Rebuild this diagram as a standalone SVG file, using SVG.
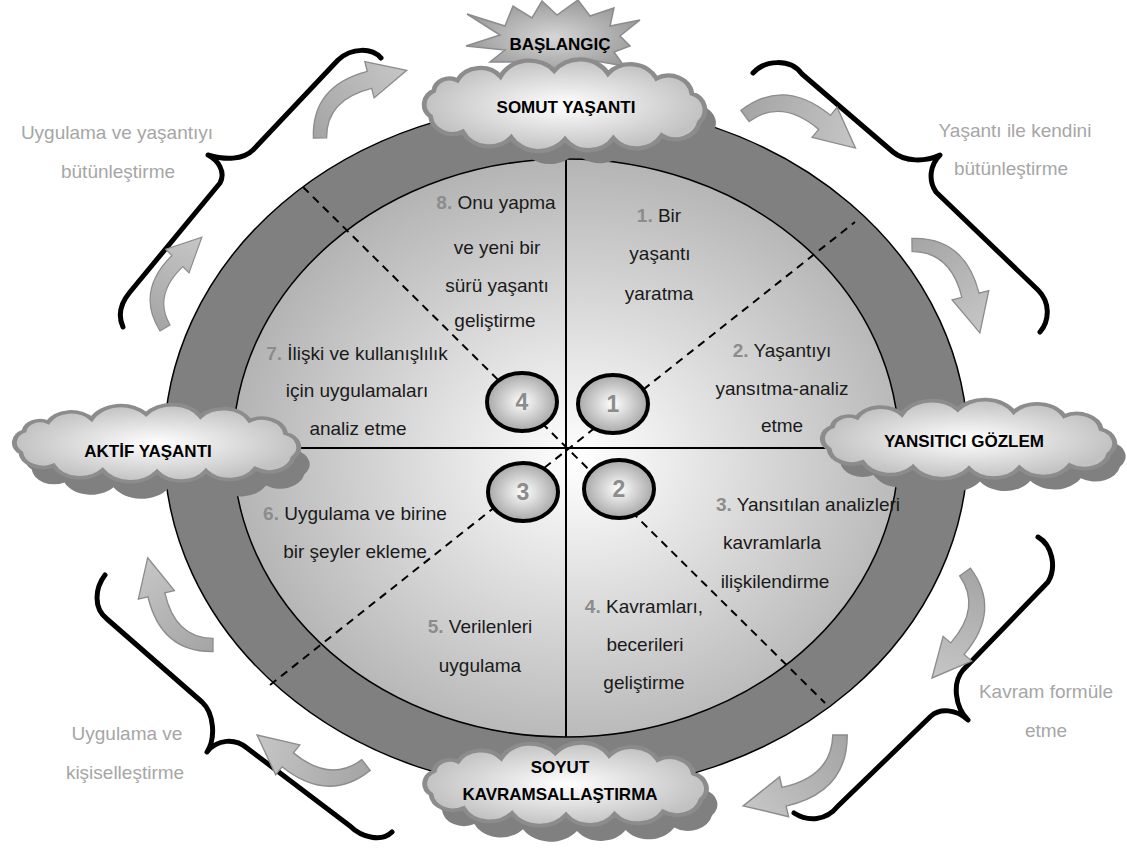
<svg xmlns="http://www.w3.org/2000/svg" width="1127" height="849" viewBox="0 0 1127 849">
<defs>
<radialGradient id="gInner" cx="0.52" cy="0.52" r="0.55"><stop offset="0" stop-color="#ffffff"/><stop offset="1" stop-color="#b0b0b0"/></radialGradient>
<radialGradient id="gSmall" cx="0.5" cy="0.5" r="0.5"><stop offset="0" stop-color="#ffffff"/><stop offset="1" stop-color="#a8a8a8"/></radialGradient>
<radialGradient id="gCloud" cx="0.5" cy="0.5" r="0.5"><stop offset="0" stop-color="#ffffff"/><stop offset="1" stop-color="#c2c2c2"/></radialGradient>
<radialGradient id="gStar" cx="0.5" cy="0.5" r="0.5"><stop offset="0" stop-color="#d6d6d6"/><stop offset="1" stop-color="#9c9c9c"/></radialGradient>
<linearGradient id="gArrow" x1="0" y1="0" x2="1" y2="0"><stop offset="0" stop-color="#a4a4a4"/><stop offset="1" stop-color="#c6c6c6"/></linearGradient>
<path id="cloud" d="M -60 -30 A 30 30 0 0 1 -10 -36 A 30 30 0 0 1 40 -33 A 27 27 0 0 1 85 -28 A 22 22 0 0 1 118 -12 A 18.5 18.5 0 0 1 125 18 A 22.6 22.6 0 0 1 90 32 A 27 27 0 0 1 45 35 A 27 27 0 0 1 0 36 A 30 30 0 0 1 -50 34 A 27 27 0 0 1 -95 28 A 20.4 20.4 0 0 1 -125 12 A 16.3 16.3 0 0 1 -122 -15 A 14.8 14.8 0 0 1 -100 -26 A 24 24 0 0 1 -60 -30 Z"/>
<path id="arr" d="M -4.8 -3.6 Q 23 -42 71.2 -21.3 L 74.8 -29.6 L 100 0 L 61.2 1.6 L 64.8 -6.7 Q 26 -24 4.8 3.6 Z"/>
</defs>
<style>
.txt{font-family:"Liberation Sans",Arial,sans-serif;font-size:19px;fill:#1a1a1a;text-anchor:middle}
.num{font-weight:bold;fill:#8c8c8c}
.side{font-family:"Liberation Sans",Arial,sans-serif;font-size:19px;fill:#a6a6a6;text-anchor:middle}
.lbl{font-family:"Liberation Sans",Arial,sans-serif;font-size:17px;font-weight:bold;fill:#000;text-anchor:middle}
.cnum{font-family:"Liberation Sans",Arial,sans-serif;font-size:23px;font-weight:bold;fill:#8c8c8c;text-anchor:middle}
.cloud{fill:url(#gCloud);stroke:#8c8c8c;stroke-width:4.5}
.shadow{fill:#808080}
.small{fill:url(#gSmall);stroke:#000;stroke-width:4}
.dash{stroke:#000;stroke-width:2;stroke-dasharray:8 6;fill:none}
.axis{stroke:#000;stroke-width:2;fill:none}
.brace{stroke:#000;stroke-width:5;fill:none;stroke-linecap:round;stroke-linejoin:round}
.arrow{fill:url(#gArrow);stroke:#8c8c8c;stroke-width:1.2}
</style>
<rect width="1127" height="849" fill="#ffffff"/>

<g id="wheel">
<ellipse cx="566" cy="447" rx="402" ry="344" fill="#808080" stroke="#000" stroke-width="1.5"/>
<ellipse cx="566" cy="448" rx="333" ry="289" fill="url(#gInner)" stroke="#000" stroke-width="1.5"/>
</g>

<g id="connectors">
<line class="axis" x1="566" y1="159" x2="566" y2="737"/>
<line class="axis" x1="233" y1="448" x2="899" y2="448"/>
<line class="dash" x1="303" y1="187" x2="825" y2="703"/>
<line class="dash" x1="270" y1="685" x2="855" y2="222"/>
<path class="brace" d="M 381 58 C 372 48, 352 47, 338 60 L 253 150 C 243 160, 225 160, 208 155 C 218 160, 226 172, 220 183 L 130 292 C 120 304, 118 316, 123 327"/>
<path class="brace" d="M 753 73 C 765 60, 790 58, 802 74 L 893 152 C 905 162, 925 162, 940 155 C 930 165, 928 180, 936 192 L 1038 290 C 1050 302, 1050 320, 1040 332"/>
<path class="brace" d="M 105 575 C 95 588, 93 608, 107 619 L 202 702 C 214 713, 216 738, 207 752 C 217 739, 235 738, 247 748 L 350 826 C 362 838, 382 842, 392 832"/>
<path class="brace" d="M 1038 537 C 1052 545, 1057 567, 1048 582 L 963 670 C 952 683, 955 707, 968 720 C 956 709, 940 708, 931 716 L 838 806 C 826 821, 808 822, 794 813"/>
<use href="#arr" class="arrow" transform="translate(320,138) rotate(-38) scale(1.1)"/>
<use href="#arr" class="arrow" transform="translate(165,328) rotate(-67.9) scale(0.98)"/>
<use href="#arr" class="arrow" transform="translate(745,116) rotate(16.2) scale(1.15)"/>
<use href="#arr" class="arrow" transform="translate(912,245) rotate(52.3) scale(1.11)"/>
<use href="#arr" class="arrow" transform="translate(965,572) rotate(107.3) scale(1.11)"/>
<use href="#arr" class="arrow" transform="translate(840,735) rotate(143.8) scale(1.2)"/>
<use href="#arr" class="arrow" transform="translate(366,765) rotate(195.4) scale(1.13)"/>
<use href="#arr" class="arrow" transform="translate(213,645) rotate(-126.8) scale(1.09)"/>
</g>

<g id="step-circle-4"><ellipse class="small" cx="522" cy="402" rx="35" ry="29"/><text class="cnum" x="522" y="410">4</text></g>
<g id="step-circle-1"><ellipse class="small" cx="613" cy="404" rx="35" ry="29"/><text class="cnum" x="613" y="412">1</text></g>
<g id="step-circle-3"><ellipse class="small" cx="523" cy="492" rx="35" ry="29"/><text class="cnum" x="523" y="500">3</text></g>
<g id="step-circle-2"><ellipse class="small" cx="619" cy="489" rx="35" ry="29"/><text class="cnum" x="619" y="497">2</text></g>

<g id="step-1">
<text class="txt" x="659" y="222"><tspan class="num">1.</tspan> Bir</text>
<text class="txt" x="660" y="260">yaşantı</text>
<text class="txt" x="659" y="300">yaratma</text>
</g>
<g id="step-2">
<text class="txt" x="782" y="357"><tspan class="num">2.</tspan> Yaşantıyı</text>
<text class="txt" x="782" y="395">yansıtma-analiz</text>
<text class="txt" x="782" y="432">etme</text>
</g>
<g id="step-3">
<text class="txt" x="808" y="511"><tspan class="num">3.</tspan> Yansıtılan analizleri</text>
<text class="txt" x="772" y="549">kavramlarla</text>
<text class="txt" x="775" y="588">ilişkilendirme</text>
</g>
<g id="step-4">
<text class="txt" x="644" y="613"><tspan class="num">4.</tspan> Kavramları,</text>
<text class="txt" x="645" y="651">becerileri</text>
<text class="txt" x="644" y="689">geliştirme</text>
</g>
<g id="step-5">
<text class="txt" x="480" y="633"><tspan class="num">5.</tspan> Verilenleri</text>
<text class="txt" x="480" y="672">uygulama</text>
</g>
<g id="step-6">
<text class="txt" x="355" y="520"><tspan class="num">6.</tspan> Uygulama ve birine</text>
<text class="txt" x="355" y="558">bir şeyler ekleme</text>
</g>
<g id="step-7">
<text class="txt" x="357" y="360"><tspan class="num">7.</tspan> İlişki ve kullanışlılık</text>
<text class="txt" x="357" y="397">için uygulamaları</text>
<text class="txt" x="358" y="435">analiz etme</text>
</g>
<g id="step-8">
<text class="txt" x="496" y="209"><tspan class="num">8.</tspan> Onu yapma</text>
<text class="txt" x="497" y="254">ve yeni bir</text>
<text class="txt" x="497" y="292">sürü yaşantı</text>
<text class="txt" x="495" y="327">geliştirme</text>
</g>

<g id="side-top-left"><text class="side" x="117" y="139">Uygulama ve yaşantıyı</text><text class="side" x="118" y="178">bütünleştirme</text></g>
<g id="side-top-right"><text class="side" x="1015" y="137">Yaşantı ile kendini</text><text class="side" x="1011" y="175">bütünleştirme</text></g>
<g id="side-bottom-left"><text class="side" x="127" y="740">Uygulama ve</text><text class="side" x="125" y="779">kişiselleştirme</text></g>
<g id="side-bottom-right"><text class="side" x="1046" y="698">Kavram formüle</text><text class="side" x="1046" y="737">etme</text></g>

<g id="baslangic">
<polygon points="467,14 505,26 513,6 532,18 542,1 557,15 578,0 590,16 614,8 610,26 640,20 620,36 630,46 614,52 624,66 590,60 565,75 530,62 490,62 505,50 466,46 500,35" fill="url(#gStar)" stroke="#8c8c8c" stroke-width="1.5"/>
<text class="lbl" x="560" y="50">BAŞLANGIÇ</text>
</g>

<g id="somut-yasanti">
<use href="#cloud" class="shadow" transform="translate(576,118) scale(1.076,0.95)"/>
<use href="#cloud" class="cloud" transform="translate(565,105) scale(1.076,0.95)"/>
<text class="lbl" x="566" y="113">SOMUT YAŞANTI</text>
</g>

<g id="aktif-yasanti">
<use href="#cloud" class="shadow" transform="translate(168,460) scale(1.09,0.8)"/>
<use href="#cloud" class="cloud" transform="translate(157,443) scale(1.09,0.8)"/>
<text class="lbl" x="148" y="457">AKTİF YAŞANTI</text>
</g>

<g id="yansitici-gozlem">
<use href="#cloud" class="shadow" transform="translate(980,452) scale(1.12,0.82)"/>
<use href="#cloud" class="cloud" transform="translate(969,439) scale(1.12,0.82)"/>
<text class="lbl" x="964" y="447">YANSITICI GÖZLEM</text>
</g>

<g id="soyut-kavramsallastirma">
<use href="#cloud" class="shadow" transform="translate(577,800) scale(1.08,0.86)"/>
<use href="#cloud" class="cloud" transform="translate(566,784) scale(1.08,0.86)"/>
<text class="lbl" x="560" y="773">SOYUT</text>
<text class="lbl" x="560" y="800">KAVRAMSALLAŞTIRMA</text>
</g>
</svg>
